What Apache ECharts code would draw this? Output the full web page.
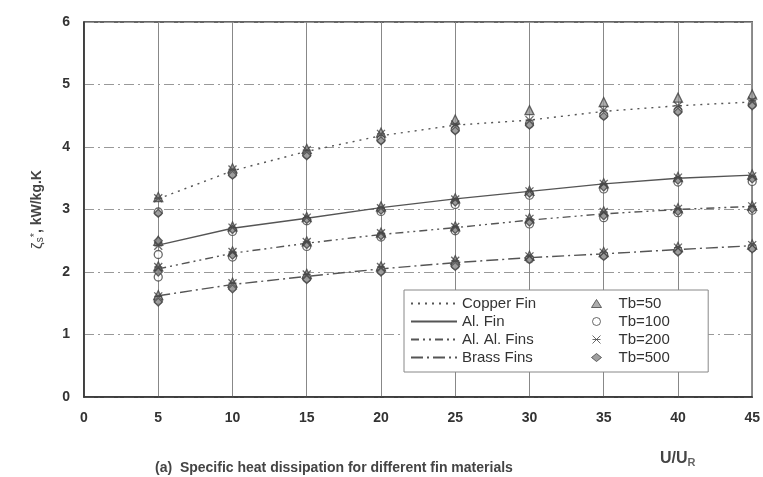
<!DOCTYPE html>
<html>
<head>
<meta charset="utf-8">
<script src="https://cdn.jsdelivr.net/npm/echarts@6/dist/echarts.min.js"></script>
<style>
  html, body { margin: 0; padding: 0; background: #fff; }
  #chart { width: 763px; height: 477px; }
</style>
</head>
<body>
<div id="chart"></div>
<script>
// U/U_R values
var xVals = [5, 10, 15, 20, 25, 30, 35, 40, 45];
var xTicks = ['0', '5', '10', '15', '20', '25', '30', '35', '40', '45'];

// fitted curves, one per fin material
var copperLine = [3.17, 3.62, 3.93, 4.18, 4.35, 4.43, 4.57, 4.66, 4.72];
var alLine     = [2.43, 2.70, 2.86, 3.03, 3.17, 3.29, 3.41, 3.50, 3.55];
var alAlLine   = [2.05, 2.30, 2.46, 2.60, 2.71, 2.83, 2.93, 3.00, 3.05];
var brassLine  = [1.62, 1.80, 1.93, 2.05, 2.15, 2.23, 2.29, 2.36, 2.42];

// measured points, per material and base temperature
var cuTb50  = [3.20, 3.66, 3.97, 4.23, 4.44, 4.59, 4.72, 4.79, 4.84];
var cuTb100 = [2.96, 3.57, 3.88, 4.12, 4.28, 4.37, 4.51, 4.58, 4.68];
var cuTb200 = [3.18, 3.64, 3.95, 4.21, 4.36, 4.43, 4.59, 4.66, 4.74];
var cuTb500 = [2.94, 3.55, 3.86, 4.10, 4.26, 4.35, 4.49, 4.56, 4.66];

var alTb50  = [2.50, 2.73, 2.88, 3.05, 3.18, 3.30, 3.42, 3.52, 3.56];
var alTb100 = [2.28, 2.65, 2.82, 2.97, 3.08, 3.23, 3.33, 3.44, 3.45];
var alTb200 = [2.42, 2.71, 2.87, 3.02, 3.16, 3.29, 3.41, 3.51, 3.53];
var alTb500 = [2.50, 2.68, 2.84, 2.99, 3.12, 3.26, 3.36, 3.47, 3.49];

var alAlTb50  = [2.09, 2.33, 2.49, 2.63, 2.73, 2.86, 2.97, 3.02, 3.06];
var alAlTb100 = [1.92, 2.24, 2.41, 2.56, 2.66, 2.77, 2.87, 2.95, 2.99];
var alAlTb200 = [2.08, 2.32, 2.48, 2.62, 2.72, 2.85, 2.96, 3.01, 3.05];
var alAlTb500 = [2.00, 2.27, 2.44, 2.58, 2.68, 2.80, 2.90, 2.97, 3.01];

var brassTb50  = [1.63, 1.83, 1.97, 2.09, 2.19, 2.26, 2.32, 2.40, 2.44];
var brassTb100 = [1.55, 1.76, 1.90, 2.02, 2.11, 2.21, 2.27, 2.34, 2.39];
var brassTb200 = [1.61, 1.82, 1.96, 2.08, 2.18, 2.25, 2.31, 2.39, 2.43];
var brassTb500 = [1.52, 1.73, 1.88, 2.00, 2.09, 2.20, 2.25, 2.32, 2.37];

var ink = '#444';

function pairs(arr) {
    return arr.map(function (v, i) { return [xVals[i], v]; });
}
function joined() {
    var out = [];
    for (var k = 0; k < arguments.length; k++) out = out.concat(pairs(arguments[k]));
    return out;
}

var starPath = 'path://M0,0L10,10M10,0L0,10M0,5L10,5';

function lineSeries(name, data, type) {
    return {
        name: name,
        type: 'line',
        symbol: 'none',
        data: pairs(data),
        lineStyle: { color: '#555', width: 1.4, type: type },
        itemStyle: { color: '#555' },
        z: 2
    };
}
function markSeries(name, data, symbol, size, fill) {
    return {
        name: name,
        type: 'scatter',
        symbol: symbol,
        symbolSize: size,
        data: data,
        itemStyle: { color: fill, borderColor: ink, borderWidth: 1.3 },
        z: 3
    };
}

var chart = echarts.init(document.getElementById('chart'));

var option = {
    backgroundColor: '#fff',
    animation: false,
    textStyle: { fontFamily: 'Liberation Sans, Arial, sans-serif' },
    title: [
        {
            text: '(a)  Specific heat dissipation for different fin materials',
            left: 150, top: 456,
            textStyle: { fontSize: 14, fontWeight: 'bold', color: ink }
        },
        {
            text: '{u|U/U}{r|R}',
            left: 655, top: 444,
            textStyle: {
                rich: {
                    u: { fontSize: 16, fontWeight: 'bold', color: ink },
                    r: { fontSize: 11, color: '#666', padding: [8, 0, 0, 0] }
                }
            }
        }
    ],
    grid: {
        left: 84, right: 6, top: 22, bottom: 80,
        show: true, borderColor: '#333', borderWidth: 1.5
    },
    legend: [
        {
            data: ['Copper Fin', 'Al. Fin', 'Al. Al. Fins', 'Brass Fins'],
            orient: 'vertical',
            left: 404, top: 290,
            itemWidth: 46, itemHeight: 12, itemGap: 3,
            padding: [6, 172, 7, 6],
            backgroundColor: '#fff',
            borderColor: '#888', borderWidth: 1,
            itemStyle: { opacity: 0 },
            textStyle: { fontSize: 15, color: '#333', padding: [0, 0, 0, 0] },
            z: 4
        },
        {
            data: ['Tb=50', 'Tb=100', 'Tb=200', 'Tb=500'],
            orient: 'vertical',
            left: 586, top: 291,
            itemWidth: 10, itemHeight: 8, itemGap: 3,
            itemStyle: { borderWidth: 1 },
            textStyle: { fontSize: 15, color: '#333', padding: [0, 0, 0, 12] },
            z: 6
        }
    ],
    xAxis: {
        type: 'value',
        min: 0, max: 45, interval: 5,
        axisLine: { lineStyle: { color: '#333', width: 1.5 } },
        axisTick: { show: false },
        axisLabel: {
            margin: 14,
            fontSize: 14, fontWeight: 'bold', color: '#333',
            formatter: function (v) { return xTicks[v / 5]; }
        },
        splitLine: { show: true, lineStyle: { color: '#888', width: 1 } }
    },
    yAxis: {
        type: 'value',
        min: 0, max: 6, interval: 1,
        name: '{z|ζ}{s|s}{p|*}{t|, kW/kg.K}',
        nameLocation: 'middle',
        nameGap: 38,
        nameTextStyle: {
            rich: {
                z: { fontSize: 15, color: ink },
                s: { fontSize: 10, color: ink, padding: [6, 0, 0, 0] },
                p: { fontSize: 11, color: ink, padding: [0, 0, 6, 0] },
                t: { fontSize: 14, fontWeight: 'bold', color: ink }
            }
        },
        axisLine: { show: true, lineStyle: { color: '#333', width: 1.5 } },
        axisTick: { show: false },
        axisLabel: { margin: 14, fontSize: 14, fontWeight: 'bold', color: '#333' },
        splitLine: { show: true, lineStyle: { color: '#999', width: 1, type: [10, 4, 2, 4] } }
    },
    series: [
        lineSeries('Copper Fin', copperLine, [2, 5]),
        lineSeries('Al. Fin', alLine, 'solid'),
        lineSeries('Al. Al. Fins', alAlLine, [8, 4, 2, 4, 2, 4]),
        lineSeries('Brass Fins', brassLine, [12, 4, 2, 4]),
        markSeries('Tb=50', joined(cuTb50, alTb50, alAlTb50, brassTb50), 'triangle', 9, '#999'),
        markSeries('Tb=100', joined(cuTb100, alTb100, alAlTb100, brassTb100), 'circle', 8, '#fff'),
        markSeries('Tb=500', joined(cuTb500, alTb500, alAlTb500, brassTb500), 'diamond', 8, '#888'),
        markSeries('Tb=200', joined(cuTb200, alTb200, alAlTb200, brassTb200), starPath, 8, 'rgba(0,0,0,0)')
    ]
};

chart.setOption(option);
</script>
</body>
</html>
